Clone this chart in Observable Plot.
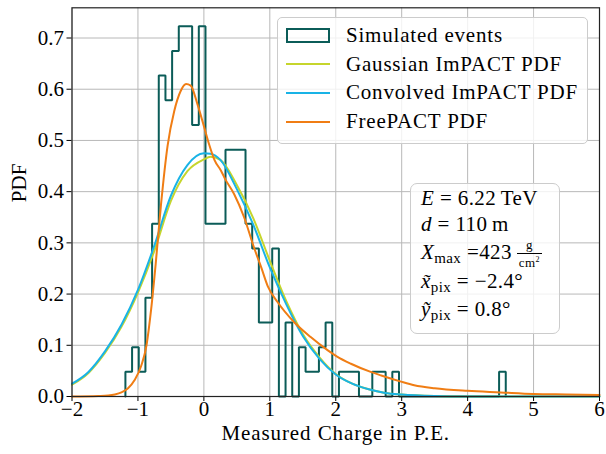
<!DOCTYPE html>
<html><head><meta charset="utf-8">
<script src="https://cdn.jsdelivr.net/npm/d3@7"></script>
<script src="https://cdn.jsdelivr.net/npm/@observablehq/plot@0.6"></script>
<style>
body{margin:0;background:#fff;}
#wrap{position:relative;width:606px;height:454px;font-family:"Liberation Serif",serif;color:#000;}
.box{position:absolute;box-sizing:border-box;border:1px solid #cccccc;border-radius:5px;background:rgba(255,255,255,0.8);}
.row{position:absolute;left:0;height:29px;width:300px;font-size:21px;white-space:nowrap;}
.sw{position:absolute;left:8px;width:44px;}
.lt{position:absolute;left:68px;top:0;line-height:29px;letter-spacing:0.8px;}
.ln{position:absolute;left:10px;font-size:21px;line-height:21px;white-space:nowrap;letter-spacing:0.4px;}
.sub{position:relative;top:3.5px;font-size:15px;}
.frac{position:relative;display:inline-block;width:25px;height:0;margin-left:5px;}
.frac .bar{position:absolute;left:0;width:25px;top:-6.5px;border-top:1px solid #000;height:0;}
.frac .num{position:absolute;left:0;width:25px;text-align:center;font-size:13px;line-height:13px;top:-21px;}
.frac .den{position:absolute;left:0;width:25px;text-align:center;font-size:13px;line-height:13px;top:-3.5px;}
.frac .den sup{font-size:8px;vertical-align:0;position:relative;top:-5px;}
</style>
</head><body>
<div id="wrap"></div>
<script>
// ---- data ----
const xTicks = [-2, -1, 0, 1, 2, 3, 4, 5, 6];
const yTicks = [0, 0.1, 0.2, 0.3, 0.4, 0.5, 0.6, 0.7];

// histogram of simulated events (counts per bin)
const binStart = -1.19;
const binWidth = 0.1012;
const histCounts = [1, 2, 1, 4, 7, 13, 12, 14, 15, 15, 11, 15, 7, 7, 7, 10, 10, 10, 7, 6,
  3, 3, 6, 0, 3, 0, 2, 1, 1, 2, 3, 0, 1, 1, 1, 0, 0, 1, 1, 0,
  1, 0, 0, 0, 0, 0, 0, 0, 0, 0, 0, 0, 0, 0, 0, 0, 1];

// ImPACT curves (shared x grid)
const impactX = [-2, -1.75, -1.5, -1.25, -1, -0.75, -0.5, -0.25, 0, 0.1, 0.25, 0.5, 0.75, 1,
  1.25, 1.5, 1.75, 2, 2.25, 2.5, 2.75, 3, 3.5, 4, 5, 6];
const gaussianPdf = [0.023, 0.046, 0.085, 0.136, 0.203, 0.285, 0.382, 0.440, 0.463, 0.468, 0.462,
  0.413, 0.348, 0.265, 0.186, 0.122, 0.077, 0.044, 0.025, 0.014, 0.007, 0.004, 0.001, 0, 0, 0];
const convolvedPdf = [0.025, 0.048, 0.088, 0.140, 0.208, 0.295, 0.392, 0.452, 0.475, 0.474, 0.462,
  0.405, 0.335, 0.252, 0.180, 0.118, 0.074, 0.043, 0.025, 0.014, 0.007, 0.004, 0.001, 0, 0, 0];

// FreePACT curve
const freeX = [-2, -1.6, -1.45, -1.35, -1.25, -1.15, -1.05, -0.95, -0.87, -0.8, -0.73, -0.65, -0.55,
  -0.45, -0.35, -0.27, -0.2, -0.1, 0, 0.08, 0.16, 0.26, 0.33, 0.46, 0.61, 0.76, 0.87, 0.97, 1.12,
  1.37, 1.62, 1.88, 2.02, 2.23, 2.53, 2.69, 2.99, 3.19, 3.5, 4, 4.5, 5, 5.5, 6];
const freePdf = [0, 0.001, 0.002, 0.004, 0.008, 0.016, 0.032, 0.06, 0.10, 0.17, 0.26, 0.375, 0.49,
  0.557, 0.597, 0.61, 0.607, 0.572, 0.528, 0.492, 0.462, 0.441, 0.423, 0.395, 0.35, 0.291, 0.252,
  0.215, 0.184, 0.145, 0.116, 0.090, 0.078, 0.064, 0.048, 0.041, 0.029, 0.022, 0.016, 0.011, 0.008,
  0.005, 0.004, 0.003];

const seriesNames = ["Simulated events", "Gaussian ImPACT PDF", "Convolved ImPACT PDF", "FreePACT PDF"];
const colors = {hist: "#0b5c58", gauss: "#c6d52c", conv: "#19b3e6", free: "#f07d14"};

// ---- build tables ----
const total = d3.sum(histCounts);
const histPts = [{x: binStart, y: 0}];
histCounts.forEach((c, i) => histPts.push({x: binStart + i * binWidth, y: c / (total * binWidth)}));
histPts.push({x: binStart + histCounts.length * binWidth, y: 0});

const gauss = impactX.map((x, i) => ({x, y: gaussianPdf[i]}));
const conv = impactX.map((x, i) => ({x, y: convolvedPdf[i]}));
const free = freeX.map((x, i) => ({x, y: freePdf[i]}));

const fmtX = d => d < 0 ? "\u2212" + Math.abs(d) : String(d);

const chart = Plot.plot({
  width: 606,
  height: 454,
  marginLeft: 71.5,
  marginRight: 7,
  marginTop: 7.3,
  marginBottom: 58,
  style: {fontFamily: "'Liberation Serif', serif", fontSize: "21px", background: "#fff", color: "#000"},
  x: {domain: [-2, 6]},
  y: {domain: [0, 0.759]},
  marks: [
    Plot.gridX(xTicks, {stroke: "#b8b8b8", strokeOpacity: 1, strokeWidth: 1}),
    Plot.gridY(yTicks, {stroke: "#b8b8b8", strokeOpacity: 1, strokeWidth: 1}),
    Plot.line(histPts, {x: "x", y: "y", curve: "step-after", stroke: colors.hist, strokeWidth: 2, strokeLinejoin: "miter"}),
    Plot.line(gauss, {x: "x", y: "y", curve: "monotone-x", stroke: colors.gauss, strokeWidth: 2}),
    Plot.line(conv, {x: "x", y: "y", curve: "monotone-x", stroke: colors.conv, strokeWidth: 2}),
    Plot.line(free, {x: "x", y: "y", curve: "monotone-x", stroke: colors.free, strokeWidth: 2}),
    Plot.axisX(xTicks, {tickSize: 5, tickPadding: 0, tickFormat: fmtX, label: null, fontSize: 21}),
    Plot.axisY(yTicks, {tickSize: 5, tickPadding: 3, tickFormat: d => d.toFixed(1), label: null, fontSize: 21}),
    Plot.frame({stroke: "#222", strokeWidth: 1.2}),
    Plot.text(["PDF"], {text: d => d, frameAnchor: "left", dx: -53, rotate: -90, fontSize: 21}),
    Plot.text(["Measured Charge in P.E."], {text: d => d, frameAnchor: "bottom", dy: 43, fontSize: 21})
  ]
});
const wrap = document.getElementById("wrap");
wrap.appendChild(chart);
d3.select(chart).selectAll("text").filter(function() { return this.textContent === "Measured Charge in P.E."; })
  .style("letter-spacing", "0.9px");

// ---- legend ----
const legend = document.createElement("div");
legend.className = "box";
Object.assign(legend.style, {left: "277px", top: "17px", width: "311px", height: "127px"});
const rowCenters = [17, 46.3, 74.7, 103.7];
const swColors = [colors.hist, colors.gauss, colors.conv, colors.free];
seriesNames.forEach((name, i) => {
  const row = document.createElement("div");
  row.className = "row";
  row.style.top = (rowCenters[i] - 14.5) + "px";
  const sw = document.createElement("div");
  sw.className = "sw";
  if (i === 0) {
    Object.assign(sw.style, {top: "7px", height: "15px", boxSizing: "border-box", border: "2px solid " + swColors[i]});
  } else {
    Object.assign(sw.style, {top: "13.5px", height: "2px", background: swColors[i]});
  }
  const t = document.createElement("div");
  t.className = "lt";
  t.textContent = name;
  row.appendChild(sw);
  row.appendChild(t);
  legend.appendChild(row);
});
wrap.appendChild(legend);

// ---- annotation box ----
const ann = document.createElement("div");
ann.className = "box";
Object.assign(ann.style, {left: "410px", top: "183px", width: "150px", height: "151px", borderRadius: "7px"});
const annLines = [
  '<i>E</i> = 6.22\u2009TeV',
  '<i>d</i> = 110\u2009m',
  '<i>X</i><span class="sub">max</span> =423<span class="frac"><span class="num">g</span><span class="bar"></span><span class="den">cm<sup>2</sup></span></span>',
  '<i>x\u0303</i><span class="sub">pix</span> = \u22122.4\u00b0',
  '<i>y\u0303</i><span class="sub">pix</span> = 0.8\u00b0'
];
const annBaselines = [205.5, 231.7, 260, 289, 316.7];
annLines.forEach((h, i) => {
  const d = document.createElement("div");
  d.className = "ln";
  d.style.top = (annBaselines[i] - 17.6 - 184) + "px";
  d.innerHTML = h;
  ann.appendChild(d);
});
wrap.appendChild(ann);
</script>
</body></html>
